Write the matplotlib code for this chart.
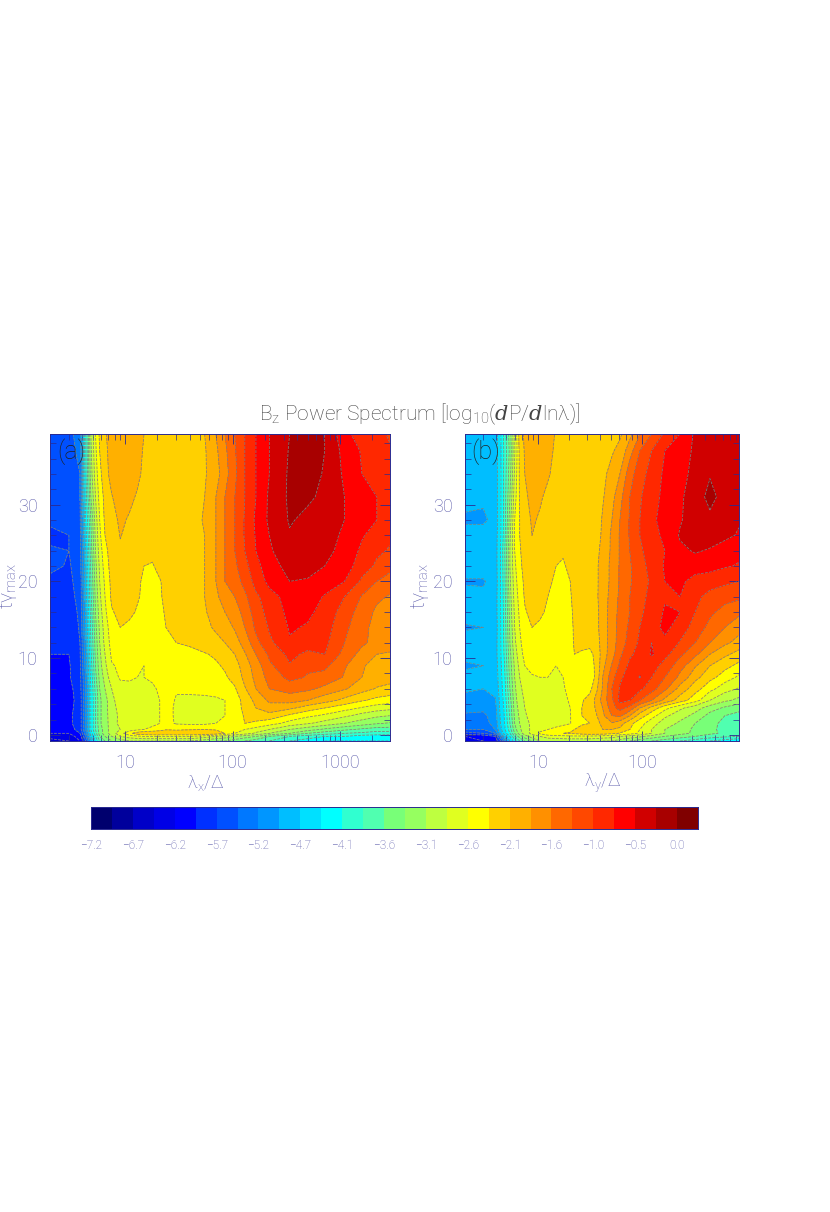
import numpy as np
import matplotlib
matplotlib.use('Agg')
import matplotlib.pyplot as plt
from matplotlib.ticker import FixedLocator, NullFormatter, FixedFormatter

plt.rcParams['font.family'] = ['Roboto', 'DejaVu Sans']
plt.rcParams['font.weight'] = 'light'
plt.rcParams['mathtext.fontset'] = 'custom'
plt.rcParams['mathtext.rm'] = 'Roboto:light'
plt.rcParams['mathtext.it'] = 'DejaVu Serif:italic'
plt.rcParams['mathtext.default'] = 'regular'

LEVEL_MIN = -7.2
LEVEL_STEP = 0.2571
COLORS = ['#00006e', '#00009c', '#0000c8', '#0000e6', '#0000ff', '#0030ff', '#0050ff', '#0078ff',
          '#0096ff', '#00beff', '#00e0ff', '#00ffff', '#30ffd0', '#50ffb0', '#78ff78', '#96ff60',
          '#beff40', '#e0ff20', '#ffff00', '#ffd000', '#ffb000', '#ff9000', '#ff6800', '#ff4800',
          '#ff2800', '#ff0000', '#d00000', '#a80000', '#800000']
CBAR_LABELS = ['−7.2', '−6.7', '−6.2', '−5.7', '−5.2', '−4.7', '−4.1', '−3.6', '−3.1', '−2.6',
               '−2.1', '−1.6', '−1.0', '−0.5', '0.0']

# Readings are colour-band numbers (0 = darkest blue ... 28 = darkest red)
TIME = [-0.8, -0.2, 0.2, 0.7, 1.5, 2.5, 3.5, 4.5, 6, 7.5, 9, 10.5, 12, 14, 16, 18, 20, 22, 24, 26, 28, 31, 34, 37, 39.2]

LAMBDA_X = [2, 3, 3.8, 4.3, 4.8, 5.3, 5.8, 6.5, 7.5, 9, 11, 13, 15, 18, 21, 24, 30, 40, 55, 70, 85, 105, 130, 165,
            220, 340, 500, 720, 1100, 1600, 2200, 2900]
BANDS_X = [
 [2.5,3,4,6,9,11,13,14,15,15.5,16,16,16,16,16,16,16,16,15.5,15,15,14.5,14,13.5,13,12,11.5,11,11,11,11,11],
 [3.5,3.5,4.5,7,10,12,14,15,16,17,17.5,17.8,18,18,18,18,18,18,17.5,17,16.5,16,15.5,15,14,13,12.5,12,12,11.5,11.5,11.5],
 [4,4,5,7.5,10.5,12.5,14.5,15.5,16.5,17.6,18.8,19.5,19.8,20,20,20,20,20,20,19.6,19,18,17.5,16.8,16,15,14,13.5,13,12.8,12.5,12.5],
 [4.5,4.5,5.5,8,11,13,14.5,15.5,16.5,17,17.5,17.8,18,18.2,18.5,18.9,18.8,18.9,19,18.9,18.7,18.3,18,17.6,17,16,15.4,14.8,14.2,13.8,13.5,13.5],
 [4.8,4.8,5.5,8,11,13,14.8,15.6,16.5,17.3,17.6,17.7,17.7,17.8,18.0,18.3,17.9,17.8,17.8,18,18.3,18.7,19,18.8,18.4,17.6,17.1,16.6,16,15.5,15.1,14.9],
 [4.8,4.8,5.5,8,11,13,14.8,15.6,16.6,17.2,17.6,17.7,17.7,17.8,18,18.4,17.8,17.7,17.7,17.8,18,18.5,19.1,19.5,19.6,18.8,18.2,17.8,17.2,16.6,16.2,16],
 [4.7,4.7,5.5,8,11,13,14.8,15.6,16.7,17.3,17.6,17.7,17.7,17.8,18,18.4,17.8,17.7,17.7,17.8,18,18.5,19.3,20,20.6,20.2,19.5,19,18.4,17.9,17.5,17.3],
 [4.6,4.6,5.5,8,11,13,14.8,15.6,16.8,17.4,17.6,17.7,17.7,17.8,18,18.4,17.9,17.7,17.7,17.8,18,18.5,19.4,20.3,21.2,21.4,21,20.4,19.7,19.1,18.7,18.5],
 [4.7,4.7,5.6,8,11,13.3,15,16,17,17.7,17.8,17.8,17.8,17.9,18.1,18.4,18.1,18.3,18.4,18.5,18.6,18.9,19.9,21,22,22.4,22.2,21.7,21.1,20.4,19.9,19.7],
 [4.9,4.9,5.7,8.2,11.3,13.7,15.3,16.4,17.6,18.1,18.1,18,18,18.1,18.3,18.5,18.5,18.6,18.7,18.8,18.9,19.3,20.3,21.3,22.4,23.3,22.9,22.7,21.9,21,20.6,20.4],
 [4.9,4.9,5.8,8.4,11.5,14,15.6,16.8,17.9,18.2,18.3,18.2,18.0,18.2,18.4,18.5,18.6,18.7,18.8,18.9,19.1,19.6,20.5,21.5,22.8,23.9,23.2,23.2,22.1,21.1,20.6,20.5],
 [5,5,5.9,8.6,11.8,14.2,15.8,17,18.2,18.4,18.5,18.4,18.2,18.3,18.5,18.6,18.7,18.8,18.95,19.1,19.4,20,20.9,22,23.2,24.3,23.7,24,22.6,21.6,21,20.9],
 [5.2,5.2,6,8.8,12,14.4,16,17.3,18.4,18.6,18.6,18.5,18.4,18.5,18.6,18.9,19,19.1,19.3,19.6,20,20.6,21.4,22.7,23.8,24.9,24.6,24.2,23,22.2,21.6,21.4],
 [5.4,5.4,6.1,9,12.2,14.7,16.2,17.5,18.6,19,18.8,18.6,18.5,18.6,18.7,19,19.1,19.3,19.7,20.2,20.6,21.1,22,23.2,24.1,25.1,24.9,24.4,23.2,22.3,21.6,21.4],
 [5.6,5.5,6.2,9.2,12.4,15,16.5,17.8,18.9,19.3,19.2,18.9,18.7,18.7,18.8,19.1,19.3,19.5,19.9,20.5,21,21.5,22.4,23.5,24.4,25.3,25.2,24.6,23.5,22.5,21.8,21.6],
 [5.9,5.7,6.3,9.5,12.8,15.2,16.8,18,19.2,19.5,19.5,19.1,18.8,18.7,18.9,19.2,19.4,19.6,20,20.8,21.5,22,22.8,23.8,24.6,25.5,25.5,24.9,24,22.9,22.2,21.9],
 [5.8,5.8,6.4,9.6,13,15.5,17,18.2,19.3,19.6,19.5,19.1,18.9,18.8,18.95,19.2,19.4,19.6,20,21,22,22.6,23.3,24.4,25.3,26,25.9,25.6,25,23.8,23,22.6],
 [6.2,5.9,6.5,9.8,13.2,15.7,17.2,18.5,19.4,19.7,19.6,19.3,19.0,18.95,19.2,19.3,19.4,19.6,20,21,22,22.8,23.7,24.7,25.6,26.4,26.4,26,25.4,24.5,23.8,23.3],
 [6.2,6,6.6,10,13.5,16,17.5,18.7,19.5,19.9,19.7,19.4,19.2,19.15,19.25,19.35,19.4,19.6,20,21,22,23,24,25,25.9,26.6,26.9,26.3,25.6,24.8,24.2,23.9],
 [5.6,6,6.7,10.5,13.8,16.2,17.8,19,19.55,20.03,19.8,19.5,19.4,19.3,19.3,19.35,19.4,19.6,20,21,22,23,24.1,25.1,26,26.9,27,26.4,25.8,25.1,24.5,24.2],
 [6.3,6.2,6.8,11,14,16.5,18,19.2,19.7,20.15,19.9,19.6,19.4,19.3,19.3,19.4,19.5,19.6,20.1,21,22,23,24.1,25.2,26.2,27.1,26.7,26.5,26,25.4,25,24.9],
 [6.5,6.3,7,11.5,15,17,18.4,19.3,19.95,20.4,20.2,19.9,19.6,19.5,19.4,19.4,19.5,19.6,20,21,22,23,24,25,26.2,27.2,27.2,26.7,26,25.3,25,25],
 [6.6,6.4,7,11.8,15.5,17.5,18.7,19.7,20.3,20.5,20.5,20.2,19.8,19.6,19.5,19.5,19.5,19.6,19.9,20.6,21.6,22.8,24,25,26,27.2,27.4,26.9,25.8,25,24.5,24.2],
 [6.7,6.6,7.3,11.9,15.8,17.8,19,19.8,20.35,20.55,20.55,20.3,19.9,19.7,19.6,19.5,19.5,19.6,19.9,20.8,21.8,22.9,24,25,26,27.1,27.4,27,25.6,24.9,24.4,24.1],
 [6.8,6.7,7.5,12,16,18,19.2,19.9,20.4,20.6,20.6,20.4,20.0,19.7,19.6,19.5,19.5,19.6,20,21,22,23,24,25,26,27,27.4,27,25.2,24.6,24.2,23.9],
]

LAMBDA_Y = [2, 3, 3.9, 4.3, 4.8, 5.4, 6, 6.7, 7.5, 8.8, 10.5, 12.5, 15, 17.5, 20.5, 22.5, 26.5, 31.5, 37, 42, 51.5,
            61.5, 76.5, 95.5, 124, 166, 232, 324, 450, 626, 856]
BANDS_Y = [
 [4,4,4.5,5.5,8,10,11.5,13,14,15,16,16.2,16.3,16.3,16.3,16.3,16.3,16.3,16.2,16,16,15.5,15,14.5,14,13.5,13,12.5,12,11.5,11],
 [4,4.2,5,7,9.5,11,13,14.5,15.5,16.5,17,17.5,17.6,17.7,17.8,17.8,17.8,17.8,17.7,17.6,17.4,17,16.6,16.2,15.6,15,14.5,14,13.5,13.2,13],
 [5.5,6,7,9,10.5,12,14,15.5,16.5,17.3,18.2,18.8,19,19,19.1,19.2,19.4,19.6,19.6,19.5,19.3,18.9,18.5,17.8,17,16,15.3,14.8,14.2,13.8,13.6],
 [7,7,8,9.5,10.8,12.5,14.6,15.8,16.6,17.2,17.7,18,18.2,18.4,18.7,19,19.5,20,20,20,20,19.8,19,18,17,16,15.4,14.8,14.2,13.7,13.5],
 [7.6,7.6,8.4,9.8,11,13,15,16,16.7,17.2,17.6,17.7,17.7,17.8,17.95,18.4,18.8,19,19.6,20.4,20.9,20.4,19.3,18.4,17.4,16.5,15.8,15,14.3,13.7,13.5],
 [7.8,7.8,8.5,9.9,11.1,13.2,15.2,16.2,16.9,17.3,17.6,17.7,17.7,17.8,17.95,18.5,19,19.4,20,20.8,22,22.2,21,19.5,18.4,17.2,16.4,15.7,14.6,14,13.7],
 [8.4,8.2,8.7,10,11.2,13.4,15.4,16.4,17,17.4,17.6,17.7,17.7,17.8,18,18.7,19,19.5,20.2,21,22.6,23.4,22.6,21,19.6,18.3,17.2,16.4,15.5,14.8,14.3],
 [8.6,8.5,8.9,10.1,11.4,13.6,15.6,16.6,17.1,17.5,17.7,17.7,17.7,17.8,18.1,18.8,18.9,19.4,20.4,21.4,22.8,24.3,24,23,22,20.7,19.5,18.4,17,16.2,15.7],
 [9.2,9,9.3,10.3,11.6,14,15.8,16.8,17.3,17.6,17.8,17.8,17.8,17.9,18.3,18.9,18.9,18.7,19.9,21.1,23,24.1,24.4,24.2,23.4,22.2,20.6,19.4,18.3,17.4,16.9],
 [9.4,9.2,9.4,10.4,11.8,14.3,16,17,17.6,17.9,18,18,17.95,18,18.5,19,18.4,18.1,19.5,21,22.6,23.8,24.5,25.05,24,23,21.7,20.3,19.3,18.5,17.8],
 [8.8,9,9.5,10.5,12,14.5,16.2,17.3,18,18.3,18.3,18.2,18,18.1,18.5,19,18.7,18.4,19.4,20.7,22.1,23.2,24.3,24.8,24.4,23.6,22.4,21.1,20,19.3,18.7],
 [9.4,9.4,9.6,10.6,12.2,14.7,16.5,17.6,18.3,18.5,18.5,18.4,18.3,18.4,18.6,19,18.9,18.7,19.4,20.5,21.6,22.8,23.8,24.4,25.1,24.3,23.2,22.2,21,20.2,19.6],
 [9.4,9.4,9.6,10.6,12.3,15,16.8,17.8,18.5,18.7,18.7,18.6,18.5,18.5,18.7,19.1,19.2,19.3,19.6,20.5,21.5,22.5,23.4,24.2,25,24.8,23.9,23,22,21.2,20.6],
 [8.9,9,9.5,10.6,12.4,15.2,17,18,18.7,19,18.9,18.7,18.5,18.6,18.8,19.1,19.3,19.5,19.8,20.5,21.5,22.4,23.2,24,24.7,25.2,24.6,23.5,22.7,22,21.4],
 [9.4,9.3,9.6,10.6,12.5,15.4,17.2,18.2,18.9,19.3,19.1,18.9,18.7,18.7,18.8,19.2,19.4,19.6,19.8,20.5,21.5,22.3,23,23.8,24.5,25.1,25,24,23.2,22.6,22.2],
 [9.3,9.2,9.6,10.6,12.6,15.6,17.4,18.4,19.1,19.4,19.3,19,18.8,18.75,18.9,19.3,19.5,19.6,19.9,20.5,21.4,22.2,23,23.6,24.4,24.9,25,24.2,23.7,23.4,23.2],
 [8.9,8.9,9.5,10.6,12.7,15.8,17.6,18.6,19.2,19.5,19.4,19.1,18.9,18.8,19,19.35,19.5,19.6,19.9,20.4,21.3,22.1,22.9,23.5,24.2,25,25.2,24.6,24.4,24.2,24],
 [9.5,9.5,9.6,10.6,12.8,16,17.8,18.8,19.3,19.6,19.5,19.2,19,18.95,19.1,19.4,19.5,19.6,19.9,20.4,21.3,22.1,22.9,23.6,24.4,25.1,25.5,25.5,25.4,25.1,24.9],
 [9.3,9.3,9.6,10.6,12.9,16,18,18.9,19.4,19.8,19.6,19.3,19.1,19.05,19.2,19.4,19.5,19.6,19.8,20.3,21.2,22.1,23,23.8,24.6,25,25.8,26.1,25.9,25.6,25.3],
 [9.5,9.5,9.6,10.5,12.6,15.8,18.2,19,19.4,20,19.7,19.4,19.2,19.1,19.2,19.3,19.4,19.5,19.6,20.2,21.2,22.1,23.1,24,24.7,25.2,26.1,26.4,26.5,26.2,25.9],
 [8.8,8.8,9.4,10.5,12.5,15.5,18,19,19.6,20.1,19.9,19.6,19.4,19.3,19.3,19.3,19.4,19.4,19.6,20.1,21,22,23.1,24,24.8,25.4,25.9,26.6,26.85,26.5,26.1],
 [9.4,9.2,9.5,10.5,12.5,15,17.6,19.1,19.8,20.3,20.1,19.8,19.5,19.4,19.4,19.3,19.3,19.4,19.6,19.9,20.7,21.7,23,23.9,24.6,25.3,25.8,26.7,27.2,26.7,26.3],
 [9.5,9.5,9.5,10.5,12.4,14.6,17.2,19.2,20,20.5,20.4,20.1,19.7,19.5,19.5,19.4,19.4,19.5,19.6,19.8,20.3,21,22.6,23.6,24.4,25.2,25.6,26.4,26.95,26.6,26.4],
 [9.5,9.5,9.5,10.5,12.3,14.3,16.9,19.3,20.1,20.5,20.5,20.3,19.8,19.6,19.5,19.5,19.5,19.5,19.6,19.7,19.9,20.3,21.6,23,24,25,25.5,26.2,26.6,26.6,26.5],
 [9.5,9.5,9.5,10.5,12.5,14.5,17,19.5,20.2,20.5,20.6,20.4,19.9,19.7,19.6,19.5,19.5,19.5,19.6,19.6,19.7,19.85,20.7,22,23,24.2,25,26.2,26.6,26.6,26.5],
]

LEVELS = [LEVEL_MIN + LEVEL_STEP * i for i in range(len(COLORS) + 1)]
TEXT_BLUE = '#5a5aaa'
AXIS_BLUE = '#2a2a90'
W, H = 830, 1212


def panel(box, xs, bands, xlim, xlabel_text, xlabel_pos, ylabel_pos, tag):
    l, r, t, b = box
    ax = fig.add_axes([l / W, 1 - b / H, (r - l) / W, (b - t) / H])
    z = LEVEL_MIN + LEVEL_STEP * np.array(bands, float)
    ax.contourf(xs, TIME, z, levels=LEVELS, colors=COLORS, extend='both', antialiased=False)
    ax.contour(xs, TIME, z, levels=LEVELS, colors='#7f7f7f', linewidths=0.55)
    ax.set_xscale('log')
    ax.set_xlim(*xlim)
    ax.set_ylim(-0.8, 39.2)
    ax.xaxis.set_major_locator(FixedLocator([10, 100, 1000]))
    ax.xaxis.set_major_formatter(FixedFormatter(['10', '100', '1000']))
    ax.xaxis.set_minor_locator(FixedLocator([m * 10 ** d for d in range(0, 4) for m in range(2, 10)]))
    ax.xaxis.set_minor_formatter(NullFormatter())
    ax.yaxis.set_major_locator(FixedLocator([0, 10, 20, 30]))
    ax.yaxis.set_minor_locator(FixedLocator(range(0, 40, 2)))
    ax.tick_params(which='major', direction='in', top=True, right=True, length=7, width=0.6,
                   color=AXIS_BLUE, labelcolor=TEXT_BLUE, labelsize=13, pad=9)
    ax.tick_params(which='minor', direction='in', top=True, right=True, length=4, width=0.5, color=AXIS_BLUE)
    for s in ax.spines.values():
        s.set_color(AXIS_BLUE)
        s.set_linewidth(0.7)
    fig.text(xlabel_pos / W, 1 - 783 / H, xlabel_text, ha='center', va='center', color=TEXT_BLUE, fontsize=13)
    fig.text(ylabel_pos / W, 1 - 586 / H, r't$\gamma_{max}$', rotation=90, ha='center', va='center',
             color=TEXT_BLUE, fontsize=15)
    fig.text((l + 21) / W, 1 - 452 / H, tag, ha='center', va='center', color='#222222', fontsize=18)
    return ax


fig = plt.figure(figsize=(W / 100, H / 100), dpi=100)
panel((50, 390, 434, 741), LAMBDA_X, BANDS_X, (2, 2920), r'$\lambda_x/\Delta$', 206, 8, '(a)')
panel((465, 739, 434, 741), LAMBDA_Y, BANDS_Y, (2, 856), r'$\lambda_y/\Delta$', 603, 420, '(b)')

fig.text(420 / W, 1 - 414 / H, r'B$_z$ Power Spectrum [log$_{10}$($\mathit{d}$P/$\mathit{d}$ln$\lambda$)]',
         ha='center', va='center', color='#444444', fontsize=15)

cax = fig.add_axes([91 / W, 1 - 829 / H, 607 / W, 22 / H])
cbar_edges = np.array(LEVELS)
cax.pcolormesh(cbar_edges, [0, 1], cbar_edges[:-1][None, :], cmap=matplotlib.colors.ListedColormap(COLORS),
               norm=matplotlib.colors.BoundaryNorm(LEVELS, len(COLORS)), rasterized=True)
cax.set_xlim(LEVELS[0], LEVELS[-1])
cax.set_yticks([])
cax.set_xticks(LEVELS[:-1:2])
cax.set_xticklabels(CBAR_LABELS)
cax.tick_params(axis='x', length=0, labelcolor=TEXT_BLUE, labelsize=8.5, pad=7)
for s in cax.spines.values():
    s.set_color(AXIS_BLUE)
    s.set_linewidth(0.7)

fig.savefig('out.png', dpi=100)
